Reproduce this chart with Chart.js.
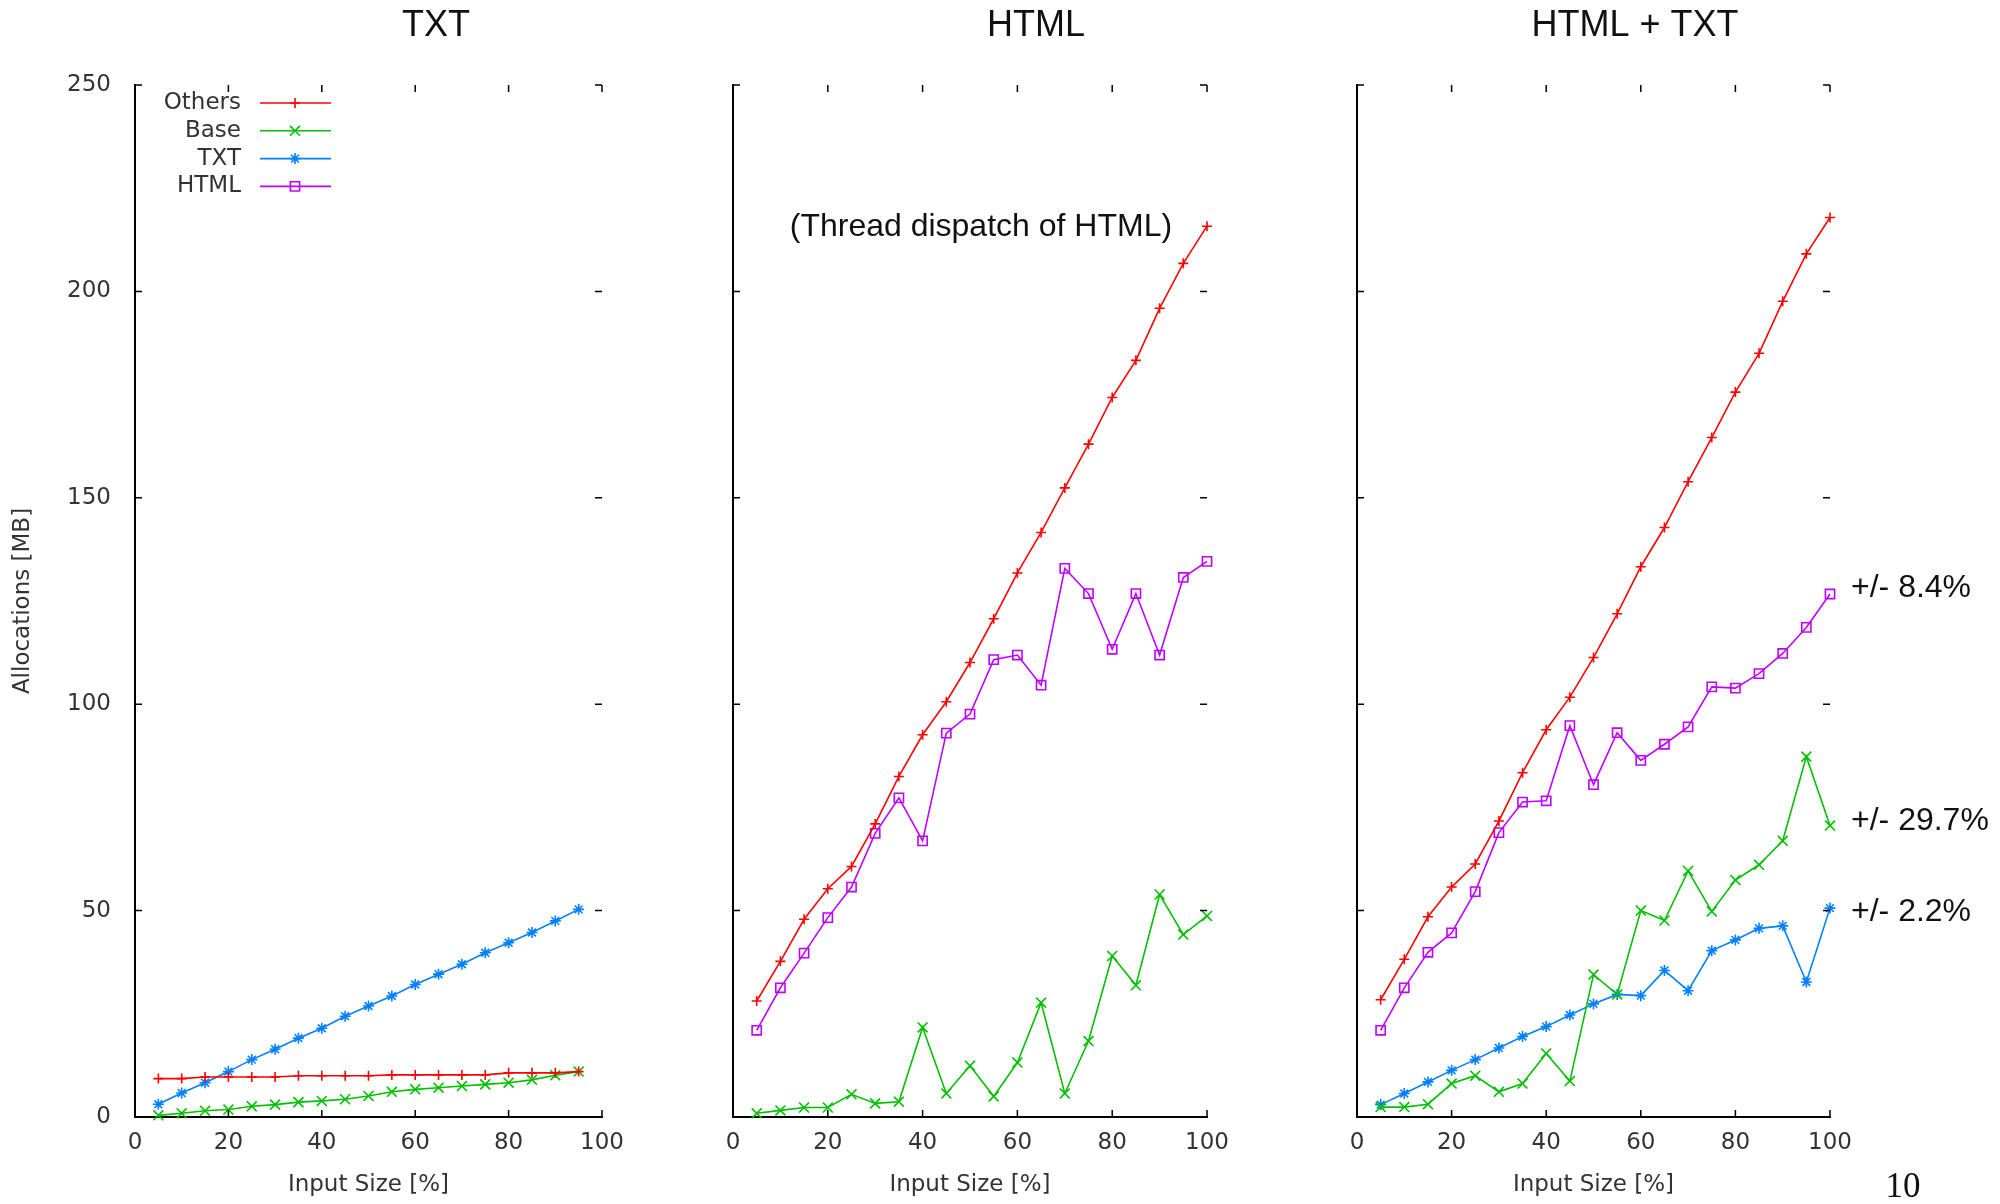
<!DOCTYPE html>
<html>
<head>
<meta charset="utf-8">
<title>Allocations</title>
<script src="https://cdn.jsdelivr.net/npm/chart.js@4.4.1/dist/chart.umd.min.js"></script>
<style>
  html, body { margin: 0; padding: 0; background: #fff; }
  #wrap { position: relative; width: 2000px; height: 1204px; }
  #wrap canvas { position: absolute; left: 0; top: 0; }
</style>
</head>
<body>
<div id="wrap">
  <canvas id="txtChart" width="2000" height="1204"></canvas>
  <canvas id="htmlChart" width="2000" height="1204"></canvas>
  <canvas id="bothChart" width="2000" height="1204"></canvas>
</div>
<script>
// input sizes [%]
const sizesTxt = [5, 10, 15, 20, 25, 30, 35, 40, 45, 50, 55, 60, 65, 70, 75, 80, 85, 90, 95];
const sizesHtml = [5, 10, 15, 20, 25, 30, 35, 40, 45, 50, 55, 60, 65, 70, 75, 80, 85, 90, 95, 100];

// TXT panel
const txtOthers = [9.3, 9.3, 9.7, 9.7, 9.7, 9.7, 10.0, 10.0, 10.0, 10.0, 10.2, 10.2, 10.2, 10.2, 10.2, 10.7, 10.7, 10.7, 11.0];
const txtBase = [0.4, 0.9, 1.5, 1.8, 2.6, 3.0, 3.6, 3.9, 4.3, 5.1, 6.1, 6.7, 7.1, 7.5, 7.9, 8.3, 9.0, 10.1, 11.0];
const txtTxt = [3.1, 5.8, 8.3, 11.0, 13.9, 16.4, 19.1, 21.5, 24.4, 26.9, 29.3, 32.1, 34.6, 37.0, 39.8, 42.2, 44.7, 47.5, 50.3];

// HTML panel
const htmlOthers = [28.1, 37.7, 47.9, 55.3, 60.7, 71.0, 82.5, 92.6, 100.6, 110.1, 120.7, 131.8, 141.6, 152.4, 163.0, 174.3, 183.3, 195.9, 206.8, 215.8];
const htmlBase = [0.9, 1.6, 2.3, 2.3, 5.5, 3.3, 3.7, 21.7, 5.7, 12.4, 5.0, 13.2, 27.7, 5.7, 18.4, 39.0, 31.9, 53.9, 44.2, 48.7];
const htmlHtml = [21.0, 31.3, 39.7, 48.3, 55.7, 68.7, 77.3, 66.9, 93.0, 97.6, 110.8, 111.9, 104.6, 132.9, 126.8, 113.3, 126.8, 111.9, 130.7, 134.6];

// HTML + TXT panel
const bothOthers = [28.4, 38.2, 48.5, 55.7, 61.3, 71.7, 83.4, 93.8, 101.7, 111.3, 121.9, 133.3, 142.8, 153.9, 164.6, 175.6, 185.0, 197.6, 209.1, 217.9];
const bothBase = [2.4, 2.4, 3.1, 8.1, 10.0, 6.1, 8.1, 15.4, 8.7, 34.5, 29.7, 50.0, 47.6, 59.6, 49.8, 57.4, 61.1, 66.9, 87.3, 70.6];
const bothTxt = [3.0, 5.7, 8.5, 11.3, 13.9, 16.7, 19.5, 21.9, 24.7, 27.4, 29.7, 29.4, 35.5, 30.6, 40.3, 42.9, 45.7, 46.3, 32.7, 50.6];
const bothHtml = [21.0, 31.3, 39.9, 44.6, 54.6, 68.9, 76.3, 76.6, 94.8, 80.5, 93.1, 86.4, 90.3, 94.5, 104.2, 103.9, 107.4, 112.3, 118.6, 126.7];

const legendNames = ['Others', 'Base', 'TXT', 'HTML'];
const xTicksStep = 20;
const yTicksStep = 50;

// labels right of the last panel
const spreadLabels = ['+/- 8.4%', '+/- 29.7%', '+/- 2.2%'];
const spreadAt = [128.1, 71.7, 49.7];

const seriesStyle = {
  Others: { color: '#ff0000', pointStyle: 'cross', radius: 5 },
  Base: { color: '#00c000', pointStyle: 'crossRot', radius: 7 },
  TXT: { color: '#0080ff', pointStyle: 'star', radius: 5.5 },
  HTML: { color: '#c000ff', pointStyle: 'rect', radius: 6.5 }
};

Chart.defaults.font.family = "'DejaVu Sans', sans-serif";
Chart.defaults.font.size = 23;
Chart.defaults.color = '#333';

function makeDataset(name, xs, ys) {
  const s = seriesStyle[name];
  return {
    label: name,
    data: xs.map((x, i) => ({ x: x, y: ys[i] })),
    borderColor: s.color,
    backgroundColor: 'rgba(0,0,0,0)',
    borderWidth: 1.6,
    pointStyle: s.pointStyle,
    pointRadius: s.radius,
    pointBorderColor: s.color,
    pointBackgroundColor: 'rgba(0,0,0,0)',
    pointBorderWidth: 1.6,
    tension: 0,
    clip: false
  };
}

function makeScales(showY) {
  return {
    x: {
      type: 'linear', min: 0, max: 100,
      ticks: { stepSize: xTicksStep, padding: 12 },
      grid: { drawOnChartArea: false, drawTicks: false },
      border: { display: true, color: '#000', width: 2 },
      title: { display: true, text: 'Input Size [%]', padding: { top: 0, bottom: 5 } },
      afterFit: function(scale) { scale.height = 87; }
    },
    y: {
      type: 'linear', min: 0, max: 250,
      ticks: { display: showY, stepSize: yTicksStep, padding: 24 },
      grid: { drawOnChartArea: false, drawTicks: false },
      border: { display: true, color: '#000', width: 2 },
      title: { display: showY, text: 'Allocations [MB]', padding: { top: 9, bottom: 0 } },
      afterFit: function(scale) { scale.width = showY ? 135 : 0; }
    }
  };
}

// gnuplot-like inner ticks, panel title and notes
const gnuplotFrame = {
  id: 'gnuplotFrame',
  afterDraw(chart, args, opts) {
    const ctx = chart.ctx;
    const a = chart.chartArea;
    const x = chart.scales.x, y = chart.scales.y;
    ctx.save();
    ctx.strokeStyle = '#000';
    ctx.lineWidth = 1.5;
    ctx.beginPath();
    x.ticks.forEach(t => {
      const px = x.getPixelForValue(t.value);
      ctx.moveTo(px, a.bottom); ctx.lineTo(px, a.bottom - 7);
      ctx.moveTo(px, a.top); ctx.lineTo(px, a.top + 7);
    });
    y.ticks.forEach(t => {
      const py = y.getPixelForValue(t.value);
      ctx.moveTo(a.left, py); ctx.lineTo(a.left + 7, py);
      ctx.moveTo(a.right, py); ctx.lineTo(a.right - 7, py);
    });
    ctx.stroke();

    ctx.fillStyle = '#111';
    ctx.textAlign = 'center';
    ctx.textBaseline = 'middle';
    ctx.font = '36px "Liberation Sans", Arial, sans-serif';
    ctx.fillText(opts.title, a.left + opts.titleOffset, 26);

    if (opts.note) {
      ctx.font = '32px "Liberation Sans", Arial, sans-serif';
      ctx.fillText(opts.note.text, x.getPixelForValue(opts.note.x), y.getPixelForValue(opts.note.y));
    }

    if (opts.spreads) {
      ctx.textAlign = 'left';
      ctx.font = '32px "Liberation Sans", Arial, sans-serif';
      spreadLabels.forEach((t, i) => {
        ctx.fillText(t, x.getPixelForValue(100) + 21, y.getPixelForValue(spreadAt[i]));
      });
      ctx.textAlign = 'center';
      ctx.font = '35px "Liberation Serif", "Times New Roman", serif';
      ctx.fillText('10', a.right + 73, 1188);
    }

    if (opts.legend) {
      ctx.font = '23px "DejaVu Sans", sans-serif';
      legendNames.forEach((name, i) => {
        const s = seriesStyle[name];
        const ly = a.top + 18 + i * 27.8;
        ctx.fillStyle = '#333';
        ctx.textAlign = 'right';
        ctx.fillText(name, a.left + 106, ly);
        ctx.strokeStyle = s.color;
        ctx.lineWidth = 1.6;
        ctx.beginPath();
        ctx.moveTo(a.left + 125, ly);
        ctx.lineTo(a.left + 196, ly);
        ctx.stroke();
        ctx.fillStyle = 'rgba(0,0,0,0)';
        if (Chart.helpers && Chart.helpers.drawPoint) {
          Chart.helpers.drawPoint(ctx, { pointStyle: s.pointStyle, radius: s.radius, borderWidth: 1.6, rotation: 0 }, a.left + 160, ly);
        }
      });
    }
    ctx.restore();
  }
};

function makeChart(id, datasets, showY, padding, frameOpts) {
  return new Chart(document.getElementById(id).getContext('2d'), {
    type: 'line',
    data: { datasets: datasets },
    options: {
      responsive: false,
      animation: false,
      devicePixelRatio: 1,
      layout: { padding: padding },
      scales: makeScales(showY),
      plugins: {
        legend: { display: false },
        tooltip: { enabled: false },
        gnuplotFrame: frameOpts
      }
    },
    plugins: [gnuplotFrame]
  });
}

makeChart('txtChart', [
  makeDataset('Others', sizesTxt, txtOthers),
  makeDataset('Base', sizesTxt, txtBase),
  makeDataset('TXT', sizesTxt, txtTxt)
], true, { left: 0, right: 1398, top: 85, bottom: 0 },
  { title: 'TXT', titleOffset: 301, legend: true });

makeChart('htmlChart', [
  makeDataset('Others', sizesHtml, htmlOthers),
  makeDataset('Base', sizesHtml, htmlBase),
  makeDataset('HTML', sizesHtml, htmlHtml)
], false, { left: 733, right: 793, top: 85, bottom: 0 },
  { title: 'HTML', titleOffset: 303, note: { text: '(Thread dispatch of HTML)', x: 52.3, y: 215.6 } });

makeChart('bothChart', [
  makeDataset('Others', sizesHtml, bothOthers),
  makeDataset('Base', sizesHtml, bothBase),
  makeDataset('TXT', sizesHtml, bothTxt),
  makeDataset('HTML', sizesHtml, bothHtml)
], false, { left: 1357, right: 170, top: 85, bottom: 0 },
  { title: 'HTML + TXT', titleOffset: 278, spreads: true });
</script>
</body>
</html>
